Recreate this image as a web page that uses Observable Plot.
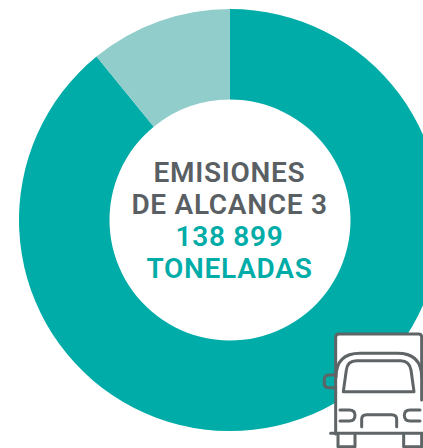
<!DOCTYPE html>
<html lang="es">
<head>
<meta charset="utf-8">
<style>
html,body{margin:0;padding:0;background:#fff;overflow:hidden}
svg{display:block}
</style>
<script src="https://cdn.jsdelivr.net/npm/d3@7"></script>
<script src="https://cdn.jsdelivr.net/npm/@observablehq/plot@0.6"></script>
</head>
<body>
<div id="chart"></div>
<script>
// Data
const categories = ["Resto", "Segmento"];
const shares = [89.1, 10.9];
const colours = ["#00aca7", "#91cdcb"];
const titleLines = ["EMISIONES", "DE ALCANCE 3"];
const valueLines = ["138 899", "TONELADAS"];

const W = 423, H = 448;
const CX = 230, CY = 220, R = 211, r0 = 120.5;

const slices = d3.pie().sort(null)(shares).map((s, i) => ({...s, category: categories[i], colour: colours[i]}));

function donut(index, {x, y}) {
  const arc = d3.arc().innerRadius(r0).outerRadius(R);
  const g = d3.create("svg:g").attr("transform", `translate(${x(CX)},${y(CY)})`);
  g.selectAll("path").data(slices).join("path")
    .attr("d", arc).attr("fill", d => d.colour);
  return g.node();
}

// Truck icon, in zoomed-crop units (3x from origin 310,320)
const truckFill = "M77 385V52Q77 42 87 42H339V385Z";
const truckLines = [
  "M77 342V52Q77 42 87 42H326Q335 42 335 52V240",
  "M78 172Q78 100 150 100H262Q335 100 335 172",
  "M100 215L109 150Q112 122 140 122H272Q298 122 303 150L312 215Z",
  "M77 165H55Q43 165 43 180V192Q43 203 55 203H77",
  "M62 340H339",
  "M84 342V380H135V342",
  "M281 342V380H335V342",
  "M90 270H118Q135 270 135 286Q135 303 118 303H90",
  "M330 270H300Q283 270 283 286Q283 303 300 303H330",
  "M155 320V298Q155 284 170 284H245Q260 284 260 298V320"
];
function truck(index, {x, y}) {
  const g = d3.create("svg:g")
    .attr("transform", `translate(${x(310)},${y(320)}) scale(${1/3})`)
    .attr("fill", "none").attr("stroke", "#5f6467")
    .attr("stroke-width", 9).attr("stroke-linecap", "round").attr("stroke-linejoin", "round");
  g.append("path").attr("d", truckFill).attr("fill", "#fff").attr("stroke", "none");
  truckLines.forEach(d => g.append("path").attr("d", d));
  return g.node();
}

const textRows = [
  ...titleLines.map((t, i) => ({t, baseline: 181 + i * 32.2, fill: "#595f63"})),
  ...valueLines.map((t, i) => ({t, baseline: 245 + i * 32.6, fill: "#00aca7"}))
];

const plot = Plot.plot({
  width: W, height: H, margin: 0,
  x: {domain: [0, W], range: [0, W], axis: null},
  y: {domain: [0, H], range: [0, H], axis: null},
  marks: [
    donut,
    truck,
    Plot.text(textRows, {
      x: () => 229, y: d => d.baseline, text: d => d.t, fill: d => d.fill,
      fontFamily: "Roboto", fontSize: 28, fontWeight: 600,
      textAnchor: "middle", lineAnchor: "bottom"
    })
  ]
});
plot.style.letterSpacing = "0.7px";
document.getElementById("chart").append(plot);
</script>
</body>
</html>
